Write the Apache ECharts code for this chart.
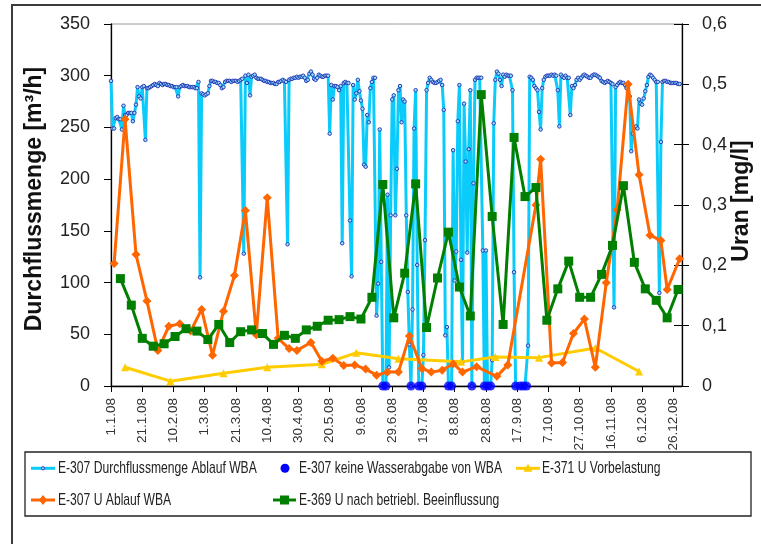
<!DOCTYPE html>
<html>
<head>
<meta charset="utf-8">
<script src="https://cdn.jsdelivr.net/npm/echarts@6/dist/echarts.min.js"></script>
<style>
  html, body { margin: 0; padding: 0; background: #fff; }
  #chart { width: 761px; height: 544px; }
</style>
</head>
<body>
<div id="chart"></div>
<script>
// ---- data ----------------------------------------------------------------
const xTickLabels = ['1.1.08', '21.1.08', '10.2.08', '1.3.08', '21.3.08', '10.4.08', '30.4.08',
  '20.5.08', '9.6.08', '29.6.08', '19.7.08', '8.8.08', '28.8.08', '17.9.08', '7.10.08',
  '27.10.08', '16.11.08', '6.12.08', '26.12.08'];

// E-307 Durchflussmenge Ablauf WBA, one value per day starting at flowStartDate [m³/h]
const flowStartDate = '1.1.08';
const flowDaily = [
  295, 249, 249, 259, 260, 258, 258, 248, 271, 262,
  262, 264, 264, 264, 256, 264, 272, 289, 280, 278,
  289, 290, 238, 288, 288, 289, 290, 291, 292, 291,
  290, 293, 292, 291, 292, 292, 291, 291, 290, 290,
  289, 289, 289, 280, 289, 290, 291, 290, 290, 290,
  289, 289, 289, 289, 288, 288, 294, 105, 283, 282,
  281, 282, 283, 290, 295, 295, 294, 294, 293, 293,
  291, 288, 289, 294, 295, 295, 295, 294, 295, 295,
  295, 294, 295, 296, 297, 128, 300, 293, 301, 281,
  299, 300, 301, 298, 297, 297, 297, 296, 295, 295,
  294, 294, 293, 293, 293, 292, 292, 294, 294, 295,
  296, 295, 294, 137, 296, 297, 297, 298, 298, 299,
  298, 299, 299, 300, 298, 295, 296, 302, 304, 301,
  297, 296, 298, 301, 300, 299, 299, 300, 300, 300,
  244, 291, 277, 290, 290, 289, 286, 290, 138, 293,
  294, 293, 293, 160, 106, 291, 277, 283, 296, 285,
  276, 268, 214, 212, 262, 255, 288, 294, 298, 298,
  68, 99, 248, 120, 0, 0, 0, 185, 18, 165,
  277, 281, 165, 210, 286, 290, 255, 277, 275, 165,
  91, 40, 0, 74, 249, 286, 117, 0, 0, 0,
  30, 141, 286, 293, 298, 296, 294, 293, 293, 294,
  295, 296, 291, 267, 49, 57, 0, 0, 0, 228,
  102, 130, 256, 291, 122, 23, 273, 217, 129, 229,
  286, 0, 196, 296, 298, 298, 298, 298, 131, 0,
  131, 0, 0, 0, 25, 254, 296, 304, 302, 296,
  290, 301, 299, 301, 300, 300, 300, 286, 110, 0,
  0, 0, 0, 0, 0, 0, 0, 39, 299, 298,
  296, 290, 288, 286, 265, 248, 288, 296, 299, 300,
  300, 300, 301, 300, 301, 300, 286, 251, 301, 299,
  298, 300, 298, 298, 262, 290, 288, 291, 296, 298,
  296, 298, 300, 301, 300, 299, 298, 298, 300, 301,
  301, 300, 299, 298, 295, 294, 293, 294, 295, 294,
  293, 292, 76, 289, 291, 293, 294, 293, 293, 291,
  288, 284, 280, 227, 244, 250, 251, 249, 277, 273,
  272, 278, 285, 291, 299, 301, 300, 298, 296, 294,
  294, 90, 236, 294, 295, 295, 294, 294, 293, 293,
  293, 293, 293, 292, 292
];

// E-307 keine Wasserabgabe von WBA (days without delivery)
const noDeliveryDates = ['23.6.08', '25.6.08', '11.7.08', '16.7.08', '18.7.08', '4.8.08', '6.8.08',
  '19.8.08', '27.8.08', '29.8.08', '31.8.08', '16.9.08', '19.9.08', '21.9.08', '23.9.08'];

// E-371 U Vorbelastung [mg/l]
const vorbelastungDates = ['10.1.08', '8.2.08', '13.3.08', '10.4.08', '15.5.08', '6.6.08', '3.7.08',
  '12.8.08', '3.9.08', '1.10.08', '6.11.08', '4.12.08'];
const vorbelastungValues = [0.031, 0.008, 0.021, 0.031, 0.036, 0.055, 0.045, 0.040, 0.048, 0.047,
  0.063, 0.024];

// E-307 U Ablauf WBA [mg/l]
const ablaufDates = ['3.1.08', '10.1.08', '17.1.08', '24.1.08', '31.1.08', '7.2.08', '14.2.08',
  '21.2.08', '28.2.08', '6.3.08', '13.3.08', '20.3.08', '27.3.08', '3.4.08', '10.4.08', '17.4.08',
  '24.4.08', '29.4.08', '8.5.08', '15.5.08', '22.5.08', '29.5.08', '5.6.08', '12.6.08', '19.6.08',
  '26.6.08', '3.7.08', '10.7.08', '18.7.08', '24.7.08', '31.7.08', '7.8.08', '13.8.08', '22.8.08',
  '4.9.08', '11.9.08', '29.9.08', '2.10.08', '9.10.08', '16.10.08', '23.10.08', '30.10.08',
  '6.11.08', '13.11.08', '20.11.08', '27.11.08', '4.12.08', '11.12.08', '18.12.08', '22.12.08',
  '30.12.08'];
const ablaufValues = [0.203, 0.442, 0.218, 0.141, 0.059, 0.099, 0.103, 0.091, 0.127, 0.051,
  0.124, 0.183, 0.291, 0.085, 0.312, 0.079, 0.062, 0.059, 0.072, 0.041, 0.046, 0.034, 0.035,
  0.028, 0.018, 0.023, 0.023, 0.083, 0.029, 0.023, 0.026, 0.037, 0.023, 0.032, 0.016, 0.035,
  0.300, 0.376, 0.038, 0.039, 0.087, 0.111, 0.031, 0.171, 0.292, 0.500, 0.350, 0.250, 0.241,
  0.160, 0.211];

// E-369 U nach betriebl. Beeinflussung [mg/l]
const beeinflussungDates = ['7.1.08', '14.1.08', '21.1.08', '28.1.08', '4.2.08', '11.2.08',
  '18.2.08', '25.2.08', '3.3.08', '10.3.08', '17.3.08', '24.3.08', '31.3.08', '7.4.08', '14.4.08',
  '21.4.08', '28.4.08', '5.5.08', '12.5.08', '19.5.08', '26.5.08', '2.6.08', '9.6.08', '16.6.08',
  '23.6.08', '30.6.08', '7.7.08', '14.7.08', '21.7.08', '28.7.08', '4.8.08', '11.8.08', '18.8.08',
  '25.8.08', '1.9.08', '8.9.08', '15.9.08', '22.9.08', '29.9.08', '6.10.08', '13.10.08',
  '20.10.08', '27.10.08', '3.11.08', '10.11.08', '17.11.08', '24.11.08', '1.12.08', '8.12.08',
  '15.12.08', '22.12.08', '29.12.08'];
const beeinflussungValues = [0.178, 0.134, 0.079, 0.066, 0.070, 0.082, 0.095, 0.091, 0.077,
  0.102, 0.072, 0.090, 0.093, 0.087, 0.069, 0.084, 0.079, 0.093, 0.099, 0.109, 0.110, 0.115,
  0.111, 0.147, 0.334, 0.113, 0.187, 0.335, 0.097, 0.179, 0.255, 0.164, 0.116, 0.483, 0.281,
  0.102, 0.412, 0.314, 0.329, 0.109, 0.161, 0.207, 0.147, 0.147, 0.185, 0.233, 0.332, 0.205,
  0.161, 0.142, 0.113, 0.160];

const names = {
  flow: 'E-307 Durchflussmenge Ablauf WBA',
  none: 'E-307 keine Wasserabgabe von WBA',
  vor: 'E-371 U Vorbelastung',
  ablauf: 'E-307 U Ablauf WBA',
  bee: 'E-369 U nach betriebl. Beeinflussung'
};

// ---- helpers -------------------------------------------------------------
// day number counted from 1.1.08
const ORIGIN = Date.UTC(2008, 0, 1);
function dayOf(s) {
  const [d, m, y] = s.split('.').map(Number);
  return Math.round((Date.UTC(2000 + y, m - 1, d) - ORIGIN) / 864e5);
}
const pairs = (dates, vals) => dates.map((d, i) => [dayOf(d), vals[i]]);
const flowStart = dayOf(flowStartDate);

const tickDays = xTickLabels.map(dayOf);
const labelOfDay = {};
tickDays.forEach((d, i) => { labelOfDay[d] = xTickLabels[i]; });

const SANS = '"Liberation Sans", Arial, sans-serif';

const C_FLOW = '#0ACBFA', C_DOT = '#0000FF', C_YEL = '#FFCC00', C_ORA = '#FF6600', C_GRN = '#007F00';

// ---- legend, drawn as a boxed key with condensed text ---------------------
function legendSymbol(kind, cx, cy, color) {
  switch (kind) {
    case 'dot': return { type: 'circle', shape: { cx, cy, r: 4.5 }, style: { fill: color } };
    case 'small': return { type: 'circle', shape: { cx, cy, r: 1.6 },
                           style: { fill: '#8fe3ff', stroke: '#2B3BB5', lineWidth: 1 } };
    case 'triangle': return { type: 'polygon',
      shape: { points: [[cx, cy - 4.5], [cx + 4.5, cy + 3.5], [cx - 4.5, cy + 3.5]] }, style: { fill: color } };
    case 'diamond': return { type: 'polygon',
      shape: { points: [[cx, cy - 5], [cx + 4, cy], [cx, cy + 5], [cx - 4, cy]] }, style: { fill: color } };
    default: return { type: 'rect', shape: { x: cx - 4.5, y: cy - 4.5, width: 9, height: 9 }, style: { fill: color } };
  }
}
const legendItems = [
  { name: names.flow,   color: C_FLOW, sym: 'small',    line: true,  x1: 31,  x2: 55,  tx: 58,  y: 468.3 },
  { name: names.none,   color: C_DOT,  sym: 'dot',      line: false, x1: 281, x2: 289, tx: 299, y: 468.3 },
  { name: names.vor,    color: C_YEL,  sym: 'triangle', line: true,  x1: 516, x2: 540, tx: 542, y: 468.3 },
  { name: names.ablauf, color: C_ORA,  sym: 'diamond',  line: true,  x1: 31,  x2: 55,  tx: 58,  y: 500 },
  { name: names.bee,    color: C_GRN,  sym: 'square',   line: true,  x1: 273, x2: 296, tx: 299, y: 500 }
];
const legendGraphics = [];
legendItems.forEach(it => {
  if (it.line) {
    legendGraphics.push({ type: 'line', z: 3, shape: { x1: it.x1, y1: it.y, x2: it.x2, y2: it.y },
                          style: { stroke: it.color, lineWidth: 3 } });
  }
  legendGraphics.push(Object.assign({ z: 4 }, legendSymbol(it.sym, (it.x1 + it.x2) / 2, it.y, it.color)));
  legendGraphics.push({ type: 'text', z: 4, x: it.tx, y: it.y + 0.5, scaleX: 0.713,
    style: { text: it.name, font: '17px ' + SANS, fill: '#222', align: 'left', verticalAlign: 'middle' } });
});

// ---- chart ---------------------------------------------------------------
const chart = echarts.init(document.getElementById('chart'), null, { renderer: 'canvas' });

chart.setOption({
  animation: false,
  backgroundColor: '#fff',
  grid: { left: 111, right: 79, top: 24, bottom: 158, show: true, borderColor: '#9a9a9a',
          borderWidth: 1, backgroundColor: 'transparent', outerBoundsMode: 'none' },
  graphic: [
    { type: 'rect', z: 0, shape: { x: 12, y: 5, width: 800, height: 600 },
      style: { fill: 'none', stroke: '#3c3c3c', lineWidth: 2 } },
    { type: 'rect', z: 1, shape: { x: 25, y: 452, width: 726, height: 64 },
      style: { fill: '#fff', stroke: '#222', lineWidth: 1.3 } },
    { type: 'text', z: 5, x: 34.5, y: 199, rotation: Math.PI / 2,
      style: { text: 'Durchflussmenge [m³/h]', font: 'bold 23px ' + SANS, fill: '#111',
               align: 'center', verticalAlign: 'middle' } },
    { type: 'text', z: 5, x: 742, y: 201, rotation: Math.PI / 2,
      style: { text: 'Uran [mg/l]', font: 'bold 23px ' + SANS, fill: '#111',
               align: 'center', verticalAlign: 'middle' } }
  ].concat(legendGraphics),
  xAxis: {
    type: 'value', min: 0, max: 365.5, interval: 20,
    axisLine: { show: true, lineStyle: { color: '#000', width: 1.3 } },
    axisTick: { show: true, length: 6, lineStyle: { color: '#000' }, customValues: tickDays },
    axisLabel: { rotate: 90, margin: 12, fontFamily: SANS, fontSize: 13.5, color: '#333',
                 customValues: tickDays,
                 formatter: v => labelOfDay[v] || '' },
    splitLine: { show: false }
  },
  yAxis: [
    { type: 'value', position: 'left', min: 0, max: 350, interval: 50,
      axisLine: { show: true, lineStyle: { color: '#000', width: 1.3 } },
      axisTick: { show: true, length: 7, lineStyle: { color: '#000' } },
      axisLabel: { margin: 21, fontFamily: SANS, fontSize: 18, color: '#222' },
      splitLine: { show: false } },
    { type: 'value', position: 'right', min: 0, max: 0.6, interval: 0.1,
      axisLine: { show: true, lineStyle: { color: '#000', width: 1.3 } },
      axisTick: { show: true, length: 7, lineStyle: { color: '#000' } },
      axisLabel: { margin: 20, fontFamily: SANS, fontSize: 18, color: '#222',
                   formatter: v => v === 0 ? '0' : v.toFixed(1).replace('.', ',') },
      splitLine: { show: false } },
    { type: 'value', position: 'right', min: 0, max: 0.6, interval: 0.1,
      axisLine: { show: false },
      axisTick: { show: true, inside: true, length: 8, lineStyle: { color: '#000' } },
      axisLabel: { show: false }, splitLine: { show: false } }
  ],
  series: [
    { name: names.flow, type: 'line', yAxisIndex: 0, z: 2, clip: false,
      data: flowDaily.map((v, i) => [flowStart + i, v]),
      showAllSymbol: true, symbol: 'circle', symbolSize: 3.5,
      lineStyle: { color: C_FLOW, width: 3 },
      itemStyle: { color: '#8fe3ff', borderColor: '#2B3BB5', borderWidth: 1 } },
    { name: names.none, type: 'scatter', yAxisIndex: 0, z: 3, clip: false,
      data: noDeliveryDates.map(d => [dayOf(d), 0]),
      symbol: 'circle', symbolSize: 9, itemStyle: { color: C_DOT } },
    { name: names.vor, type: 'line', yAxisIndex: 1, z: 4, clip: false,
      data: pairs(vorbelastungDates, vorbelastungValues),
      symbol: 'triangle', symbolSize: 8,
      lineStyle: { color: C_YEL, width: 3 }, itemStyle: { color: C_YEL } },
    { name: names.ablauf, type: 'line', yAxisIndex: 1, z: 5, clip: false,
      data: pairs(ablaufDates, ablaufValues),
      symbol: 'diamond', symbolSize: 9,
      lineStyle: { color: C_ORA, width: 3 }, itemStyle: { color: C_ORA } },
    { name: names.bee, type: 'line', yAxisIndex: 1, z: 6, clip: false,
      data: pairs(beeinflussungDates, beeinflussungValues),
      symbol: 'rect', symbolSize: 9,
      lineStyle: { color: C_GRN, width: 3 }, itemStyle: { color: C_GRN } }
  ]
});
</script>
</body>
</html>
